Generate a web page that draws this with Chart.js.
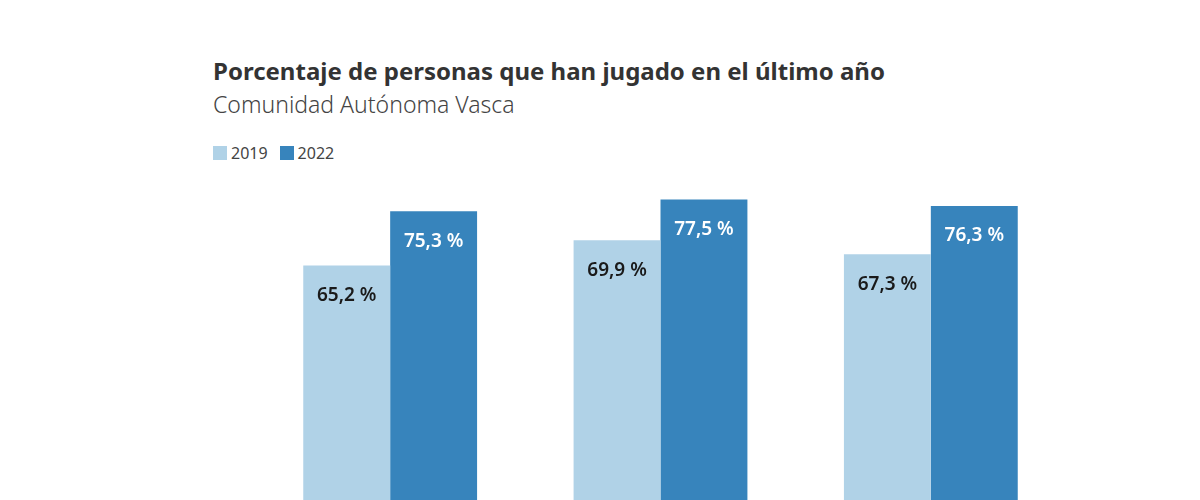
<!DOCTYPE html>
<html>
<head>
<meta charset="utf-8">
<script src="https://cdn.jsdelivr.net/npm/chart.js@4"></script>
<style>
  html, body { margin: 0; width: 1200px; height: 500px; overflow: hidden; background: #fff; font-family: "Noto Sans", sans-serif; }
  #title { position: absolute; left: 213px; top: 54px; font-size: 24px; font-weight: 700; color: #333; }
  #subtitle { position: absolute; left: 213px; top: 88px; font-size: 23px; font-weight: 300; color: #444; }
  #legend { position: absolute; left: 213px; top: 142px; font-size: 16px; color: #444; display: flex; gap: 12px; }
  #legend span { display: flex; align-items: center; }
  #legend i { display: inline-block; width: 14px; height: 14px; margin-right: 4px; }
  #wrap { position: absolute; left: 0; top: 0; width: 1200px; height: 650px; }
</style>
</head>
<body>
<div id="title">Porcentaje de personas que han jugado en el último año</div>
<div id="subtitle">Comunidad Autónoma Vasca</div>
<div id="legend">
  <span><i style="background:#b0d2e7"></i>2019</span>
  <span><i style="background:#3784bc"></i>2022</span>
</div>
<div id="wrap"><canvas id="chart"></canvas></div>
<script>
const categories = ['A', 'B', 'C'];
const values2019 = [65.2, 69.9, 67.3];
const values2022 = [75.3, 77.5, 76.3];
const colors = ['#b0d2e7', '#3784bc'];
const labelColors = ['#1a1a1a', '#ffffff'];

const barLabels = {
    id: 'barLabels',
    afterDatasetsDraw(chart) {
        const { ctx } = chart;
        ctx.save();
        ctx.font = '600 19px "Noto Sans", sans-serif';
        ctx.textAlign = 'center';
        ctx.textBaseline = 'middle';
        chart.data.datasets.forEach((dataset, di) => {
            chart.getDatasetMeta(di).data.forEach((bar, i) => {
                ctx.fillStyle = labelColors[di];
                ctx.fillText(dataset.data[i].toFixed(1).replace('.', ',') + ' %', bar.x, bar.y + 30);
            });
        });
        ctx.restore();
    },
};

new Chart(document.getElementById('chart'), {
    type: 'bar',
    data: {
        labels: categories,
        datasets: [
            { label: '2019', data: values2019, backgroundColor: colors[0] },
            { label: '2022', data: values2022, backgroundColor: colors[1] },
        ],
    },
    options: {
        responsive: true,
        maintainAspectRatio: false,
        animation: false,
        layout: { padding: { left: 255, right: 134, top: 186, bottom: 34 } },
        datasets: { bar: { barPercentage: 1, categoryPercentage: 0.643 } },
        scales: {
            x: { display: false },
            y: { display: false, min: 0, max: 80 },
        },
        plugins: { legend: { display: false }, tooltip: { enabled: false } },
    },
    plugins: [barLabels],
});
</script>
</body>
</html>
